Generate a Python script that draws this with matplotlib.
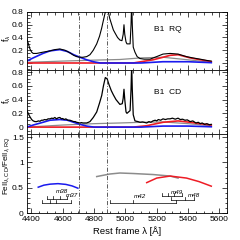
import matplotlib
matplotlib.use("Agg")
import matplotlib.pyplot as plt
from matplotlib.ticker import MultipleLocator

plt.rcParams['font.family'] = ['Liberation Sans', 'DejaVu Sans']
plt.rcParams['mathtext.fontset'] = 'custom'
plt.rcParams['mathtext.rm'] = 'Liberation Sans'
plt.rcParams['mathtext.it'] = 'Liberation Sans:italic'

# ---- B1 RQ (top panel) ----
wl_rq = [4370, 4380, 4391, 4402, 4412, 4434, 4474, 4519, 4550, 4582, 4615, 4646, 4670,
         4689, 4710, 4729, 4753, 4774, 4795, 4817, 4835, 4849, 4857, 4870, 4884, 4900,
         4923, 4934, 4950, 4965, 4978, 4986, 4991, 4996, 5004, 5010, 5030, 5036, 5040,
         5044, 5050, 5061, 5075, 5093, 5120, 5157, 5199, 5240, 5285, 5336, 5390, 5430,
         5477, 5520, 5548]
fx_rq = [0.39, 0.31, 0.22, 0.17, 0.15, 0.15, 0.17, 0.19, 0.21, 0.22, 0.2, 0.16, 0.12,
         0.1, 0.09, 0.09, 0.1, 0.13, 0.2, 0.3, 0.42, 0.55, 0.64, 0.78, 0.88, 0.7,
         0.52, 0.47, 0.4, 0.36, 0.35, 0.45, 0.6, 0.45, 0.33, 0.3, 0.3, 0.6, 0.95,
         0.6, 0.25, 0.17, 0.1, 0.07, 0.06, 0.06, 0.1, 0.14, 0.15, 0.14, 0.1, 0.08,
         0.06, 0.04, 0.03]
blue_rq_x = [4370, 4412, 4474, 4519, 4582, 4630, 4670, 4710, 4753, 4795, 4840, 5100,
             5240, 5400, 5548]
blue_rq_y = [0.03, 0.08, 0.15, 0.19, 0.21, 0.18, 0.13, 0.09, 0.05, 0.02, 0.0, 0.0,
             0.02, 0.02, 0.005]
red_rq_x = [4370, 5050, 5100, 5176, 5240, 5285, 5336, 5413, 5548]
red_rq_y = [0.0, 0.0, 0.02, 0.05, 0.09, 0.12, 0.13, 0.08, 0.02]
gray_rq_x = [4370, 4600, 4800, 4965, 5100, 5240, 5400, 5548]
gray_rq_y = [0.01, 0.03, 0.045, 0.055, 0.08, 0.09, 0.05, 0.01]

# ---- B1 CD (middle panel) ----
wl_cd = [4370, 4380, 4391, 4402, 4412, 4423, 4434, 4445, 4455, 4465, 4474, 4485, 4495,
         4507, 4519, 4530, 4540, 4550, 4560, 4571, 4582, 4592, 4600, 4610, 4620, 4633,
         4646, 4658, 4670, 4680, 4689, 4700, 4710, 4720, 4729, 4741, 4753, 4764, 4774,
         4795, 4817, 4835, 4849, 4860, 4872, 4884, 4895, 4910, 4923, 4940, 4965, 4980,
         4986, 4991, 4996, 5004, 5010, 5030, 5036, 5040, 5044, 5050, 5061, 5080, 5093,
         5110, 5136, 5150, 5162, 5176, 5190, 5200, 5210, 5225, 5240, 5255, 5270, 5285,
         5300, 5318, 5336, 5350, 5365, 5380, 5395, 5413, 5430, 5450, 5465, 5477, 5490,
         5505, 5520, 5535, 5548]
fx_cd = [0.25, 0.2, 0.15, 0.11, 0.09, 0.08, 0.08, 0.09, 0.085, 0.1, 0.1, 0.11, 0.105,
         0.12, 0.12, 0.13, 0.125, 0.14, 0.12, 0.135, 0.14, 0.12, 0.125, 0.11, 0.12, 0.1,
         0.1, 0.09, 0.08, 0.08, 0.07, 0.065, 0.06, 0.065, 0.06, 0.06, 0.06, 0.07, 0.08,
         0.14, 0.22, 0.35, 0.46, 0.6, 0.72, 0.7, 0.62, 0.53, 0.47, 0.4, 0.33, 0.34,
         0.42, 0.55, 0.4, 0.22, 0.2, 0.24, 0.55, 0.9, 0.55, 0.18, 0.09, 0.08, 0.07,
         0.075, 0.06, 0.08, 0.07, 0.09, 0.1, 0.09, 0.11, 0.1, 0.12, 0.11, 0.12, 0.12,
         0.13, 0.115, 0.13, 0.11, 0.115, 0.1, 0.105, 0.08, 0.09, 0.06, 0.07, 0.05, 0.06,
         0.04, 0.05, 0.035, 0.04]
blue_cd_x = [4370, 4412, 4474, 4519, 4582, 4630, 4670, 4710, 4753, 4800, 5100, 5240,
             5400, 5548]
blue_cd_y = [0.0, 0.03, 0.07, 0.1, 0.11, 0.1, 0.07, 0.04, 0.015, 0.0, 0.0, 0.015,
             0.015, 0.005]
red_cd_x = [4370, 5050, 5136, 5176, 5240, 5336, 5413, 5477, 5548]
red_cd_y = [0.0, 0.0, 0.02, 0.04, 0.07, 0.09, 0.07, 0.05, 0.03]
gray_cd_x = [4370, 4600, 4800, 4965, 5100, 5240, 5400, 5548]
gray_cd_y = [0.0, 0.03, 0.05, 0.06, 0.07, 0.075, 0.05, 0.02]

# ---- FeII ratio (bottom panel) ----
ratio_blue_x = [4444, 4480, 4520, 4570, 4620, 4660, 4697]
ratio_blue_y = [0.51, 0.55, 0.57, 0.58, 0.565, 0.535, 0.49]
ratio_gray_x = [4817, 4900, 4965, 5050, 5176, 5285, 5336]
ratio_gray_y = [0.72, 0.77, 0.79, 0.78, 0.76, 0.73, 0.69]
ratio_red_x = [5136, 5200, 5285, 5390, 5470, 5548]
ratio_red_y = [0.6, 0.69, 0.73, 0.69, 0.62, 0.53]

# multiplet combs: line positions, base level, tick height, label, label position
multiplets = [
    ("m38", [4500, 4540, 4580, 4630], 0.27, 0.06, (4595, 0.42)),
    ("m37", [4470, 4520, 4560, 4650], 0.2, 0.06, (4660, 0.34)),
    ("m42", [4902, 5047, 5324], 0.19, 0.07, (5095, 0.33)),
    ("m49", [5231, 5270, 5310, 5359], 0.33, 0.06, (5330, 0.41)),
    ("m48", [5290, 5380, 5440], 0.25, 0.06, (5440, 0.34)),
]

vlines = [4705, 4885]
xlim = (4370, 5650)

fig = plt.figure(figsize=(2.4, 2.4), dpi=100)
left, width = 0.111, 0.836
ax1 = fig.add_axes([left, 0.7083, width, 0.2417])
ax2 = fig.add_axes([left, 0.4417, width, 0.2667])
ax3 = fig.add_axes([left, 0.1125, width, 0.329])

blue = '#1a1aee'
red = '#ee1c25'
gray = '#8c8c8c'

ax1.plot(gray_rq_x, gray_rq_y, color=gray, lw=0.9)
ax1.plot(red_rq_x, red_rq_y, color=red, lw=1.2)
ax1.plot(blue_rq_x, blue_rq_y, color=blue, lw=1.2)
ax1.plot(wl_rq, fx_rq, color='black', lw=0.8)
ax1.set_ylim(-0.11, 0.8)
ax1.text(0.704, 0.69, "B1  RQ", transform=ax1.transAxes, fontsize=6, ha='center', va='center')

ax2.plot(gray_cd_x, gray_cd_y, color=gray, lw=0.9)
ax2.plot(red_cd_x, red_cd_y, color=red, lw=1.2)
ax2.plot(blue_cd_x, blue_cd_y, color=blue, lw=1.2)
ax2.plot(wl_cd, fx_cd, color='black', lw=0.9)
ax2.set_ylim(-0.1, 0.83)
ax2.text(0.704, 0.656, "B1  CD", transform=ax2.transAxes, fontsize=6, ha='center', va='center')

ax3.plot(ratio_blue_x, ratio_blue_y, color=blue, lw=1.1)
ax3.plot(ratio_gray_x, ratio_gray_y, color=gray, lw=1.1)
ax3.plot(ratio_red_x, ratio_red_y, color=red, lw=1.1)
for name, pos, base, h, lab in multiplets:
    ax3.plot([pos[0], pos[-1]], [base, base], color='black', lw=0.5)
    for p in pos:
        ax3.plot([p, p], [base, base + h], color='black', lw=0.5)
    ax3.text(lab[0], lab[1], name, fontsize=4.5, style='italic', ha='center', va='center')
ax3.set_ylim(0, 1.56)

for ax in (ax1, ax2, ax3):
    ax.set_xlim(*xlim)
    for v in vlines:
        ax.axvline(v, color='#444444', lw=0.6, ls=(0, (5, 2, 1, 2)))
    ax.xaxis.set_major_locator(MultipleLocator(200))
    ax.xaxis.set_minor_locator(MultipleLocator(50))
    ax.tick_params(which='both', direction='in', top=True, right=True, labelsize=6,
                   width=0.5, pad=2)
    ax.tick_params(which='major', length=3.5)
    ax.tick_params(which='minor', length=1.8)
    for s in ax.spines.values():
        s.set_linewidth(0.6)

for ax in (ax1, ax2):
    ax.yaxis.set_minor_locator(MultipleLocator(0.05))
    ax.set_yticks([0, 0.2, 0.4, 0.6, 0.8])
    ax.set_yticklabels(["0", "0.2", "0.4", "0.6", "0.8"])
    ax.tick_params(labelbottom=False)

ax3.yaxis.set_minor_locator(MultipleLocator(0.1))
ax3.set_yticks([0, 0.5, 1, 1.5])
ax3.set_yticklabels(["0", "0.5", "1", "1.5"])

fig.text(0.03, 0.842, r"f$_\lambda$", rotation=90, fontsize=6.5, ha='center', va='center')
fig.text(0.03, 0.583, r"f$_\lambda$", rotation=90, fontsize=6.5, ha='center', va='center')
fig.text(0.026, 0.31, r"FeII$_{\lambda,\rm CD}$/FeII$_{\lambda,\rm RQ}$", rotation=90,
         fontsize=5.8, ha='center', va='center')
fig.text(0.53, 0.035, "Rest frame λ [Å]", fontsize=6.8, ha='center', va='center')

fig.savefig("out.png", dpi=100)
